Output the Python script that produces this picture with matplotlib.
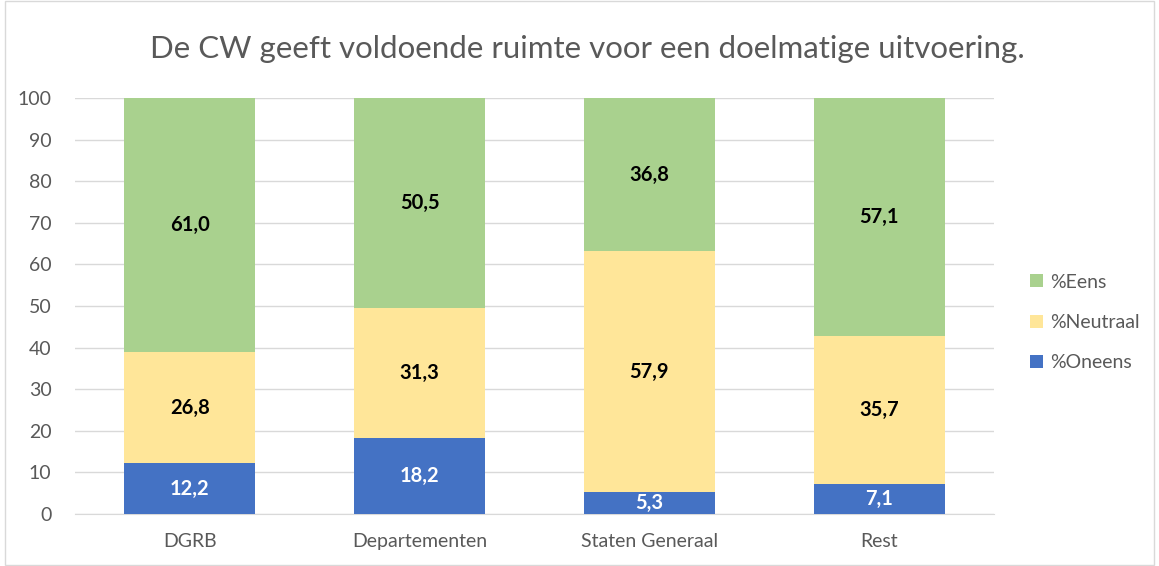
import numpy as np
import matplotlib.pyplot as plt
from matplotlib.patches import Rectangle

categories = ["DGRB", "Departementen", "Staten Generaal", "Rest"]
oneens = [12.2, 18.2, 5.3, 7.1]
neutraal = [26.8, 31.3, 57.9, 35.7]
eens = [61.0, 50.5, 36.8, 57.1]

plt.rcParams['font.family'] = ['Lato', 'DejaVu Sans']

fig = plt.figure(figsize=(11.59, 5.66), dpi=100)
ax = fig.add_axes([0.0647, 0.0919, 0.793, 0.735])
fig.patches.append(Rectangle((0.004, 0.002), 0.992, 0.996, transform=fig.transFigure,
                             fill=False, edgecolor='#D9D9D9', linewidth=1))

x = np.arange(len(categories))
w = 0.57
series = [
    ("%Oneens", oneens, '#4472C4', 'white'),
    ("%Neutraal", neutraal, '#FFE699', 'black'),
    ("%Eens", eens, '#A9D18E', 'black'),
]
bottom = np.zeros(len(categories))
for name, vals, col, tcol in series:
    vals = np.array(vals)
    ax.bar(x, vals, w, bottom=bottom, color=col, label=name, zorder=3)
    for xi, b, v in zip(x, bottom, vals):
        ax.text(xi, b + v / 2, f"{v:.1f}".replace('.', ','), ha='center', va='center',
                color=tcol, fontsize=14.5, fontweight='bold', zorder=4)
    bottom += vals

ax.set_xlim(-0.5, 3.5)
ax.set_ylim(0, 100)
ax.set_yticks(range(0, 101, 10))
ax.set_xticks(x)
ax.set_xticklabels(categories)
ax.tick_params(axis='both', length=0, labelsize=14, colors='#595959')
ax.tick_params(axis='x', pad=14)
ax.tick_params(axis='y', pad=17)
ax.grid(axis='y', color='#D9D9D9', linewidth=1, zorder=0)
for s in ['top', 'right', 'left']:
    ax.spines[s].set_visible(False)
ax.spines['bottom'].set_color('#D9D9D9')

fig.text(0.507, 0.913, "De CW geeft voldoende ruimte voor een doelmatige uitvoering.",
         ha='center', va='center', fontsize=22.5, color='#595959')

handles, labels = ax.get_legend_handles_labels()
ax.legend(handles[::-1], labels[::-1], loc='center left', bbox_to_anchor=(1.02, 0.46),
          frameon=False, fontsize=14, labelcolor='#595959', handlelength=0.65,
          handleheight=0.65, labelspacing=1.2, handletextpad=0.4)

fig.savefig("out.png", dpi=100)
